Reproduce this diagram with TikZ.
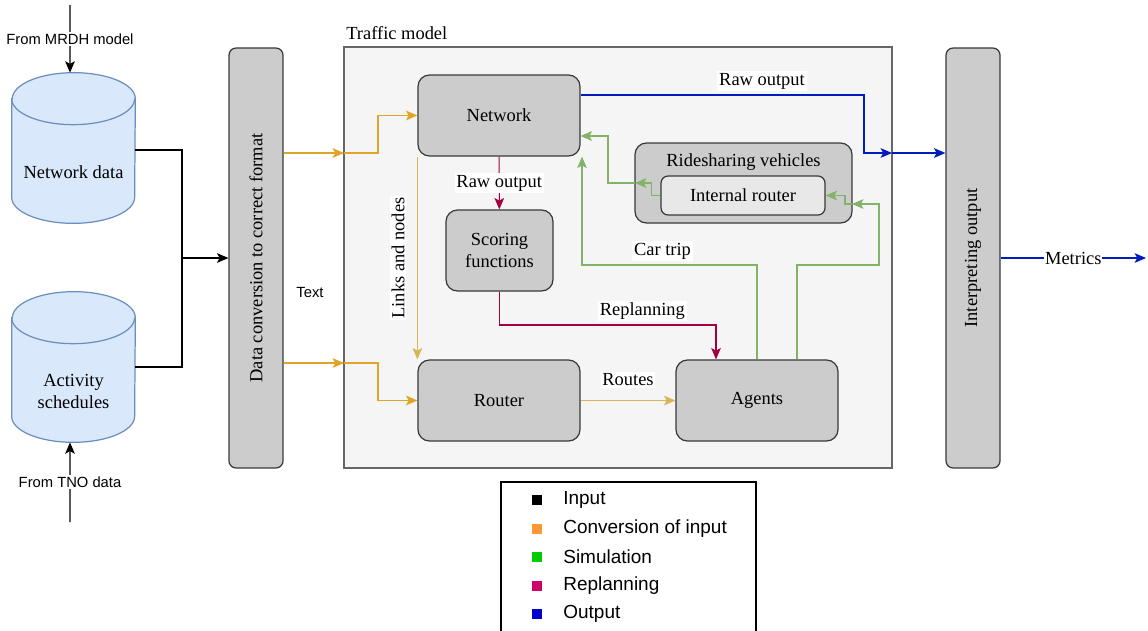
\documentclass[tikz,border=0pt]{standalone}
\usepackage{fontspec}
\setmainfont{Liberation Serif}
\setsansfont{Liberation Sans}
\usetikzlibrary{arrows.meta}

\definecolor{boxgray}{HTML}{CCCCCC}
\definecolor{boxline}{HTML}{36393D}
\definecolor{modelfill}{HTML}{F5F5F5}
\definecolor{modelline}{HTML}{666666}
\definecolor{dbfill}{HTML}{DAE8FC}
\definecolor{dbline}{HTML}{6C8EBF}
\definecolor{convcol}{HTML}{DFA526}
\definecolor{linkcol}{HTML}{D6B656}
\definecolor{simcol}{HTML}{82B366}
\definecolor{replcol}{HTML}{A50040}
\definecolor{outcol}{HTML}{001DBC}
\definecolor{legorange}{HTML}{FF9933}
\definecolor{leggreen}{HTML}{00CC00}
\definecolor{legpink}{HTML}{CC0066}
\definecolor{legblue}{HTML}{0000CC}

\newcommand{\boxfont}{\fontsize{10.5}{12.5}\selectfont}
\newcommand{\smallsans}{\sffamily\fontsize{8.4}{10}\selectfont}
\newcommand{\legfont}{\sffamily\fontsize{10.8}{13}\selectfont}

% cylinder drawn round a named (invisible) node
\newcommand{\dbshape}[1]{%
  \draw[dbline, fill=dbfill, line width=0.7pt]
    ([yshift=-0.52cm]#1.north west) -- ([yshift=0.52cm]#1.south west)
    arc[start angle=180, end angle=360, x radius=1.23cm, y radius=0.52cm]
    -- ([yshift=-0.52cm]#1.north east)
    arc[start angle=0, end angle=180, x radius=1.23cm, y radius=0.52cm] -- cycle;
  \draw[dbline, line width=0.7pt] ([yshift=-0.52cm]#1.north west)
    arc[start angle=180, end angle=360, x radius=1.23cm, y radius=0.52cm];
}

\tikzset{
  box/.style={draw=boxline, fill=boxgray, rounded corners=6.5pt, line width=0.7pt,
    font=\boxfont, align=center, minimum width=3.24cm, minimum height=1.62cm},
  bar/.style={box, minimum width=1.08cm, minimum height=8.4cm, rounded corners=4pt},
  db/.style={minimum width=2.46cm, minimum height=3cm, inner sep=0pt},
  model/.style={draw=modelline, fill=modelfill, line width=0.7pt,
    minimum width=10.96cm, minimum height=8.42cm},
  tip/.style={-{Stealth[length=6.5pt,width=5.5pt,inset=1.5pt]}},
  inp/.style={tip, line width=0.6pt, black},
  conv/.style={tip, line width=0.7pt, convcol},
  link/.style={tip, line width=0.6pt, linkcol},
  sim/.style={tip, line width=0.6pt, simcol},
  repl/.style={tip, line width=0.6pt, replcol},
  outp/.style={tip, line width=0.6pt, outcol},
  lbl/.style={fill=white, text=black, font=\boxfont, inner sep=1pt},
  slbl/.style={fill=white, text=black, font=\smallsans, inner sep=1pt},
}

\begin{document}
\begin{tikzpicture}[x=0.02cm, y=-0.02cm]
  \useasboundingbox (0,0) rectangle (1148,630);

  % traffic model container
  \node[model] (model) at (618,257.5) {};
  \node[anchor=west, font=\boxfont, inner sep=0pt] (modellbl) at (346,33) {Traffic model};

  % input side
  \node[db] (netdata) at (73.5,148) {};
  \dbshape{netdata}
  \node[font=\boxfont] (netdatatxt) at (73.5,172) {Network data};
  \node[db] (actdata) at (73.5,367) {};
  \dbshape{actdata}
  \node[font=\boxfont, align=center] (acttxt) at (73.5,391) {Activity\\schedules};
  \coordinate (mrdh) at (70,5);
  \coordinate (tno) at (70,522);
  \coordinate (join) at (182,258);

  \node[bar] (conv) at (256,258) {};
  \node[rotate=90, font=\boxfont] (convtxt) at (conv) {Data conversion to correct format};
  \node[font=\smallsans] (txtlbl) at (310,292) {Text};

  % blocks inside the model
  \node[box] (net) at (499,115.5) {Network};
  \node[box, minimum width=2.14cm] (score) at (499.5,250.5) {Scoring\\functions};
  \node[box] (router) at (499,400.5) {Router};
  \node[box] (agents) at (757,400.5) {Agents};
  \node[box, minimum width=4.34cm, minimum height=1.6cm, text depth=0.9cm] (ride) at (743.5,183)
    {Ridesharing vehicles};
  \node[box, fill=gray!18, minimum width=3.28cm, minimum height=0.78cm, rounded corners=4pt] (irouter)
    at (743,195.5) {Internal router};

  % output side
  \node[bar] (interp) at (973,258) {};
  \node[rotate=90, font=\boxfont] (interptxt) at (interp) {Interpreting output};
  \coordinate (metrics) at (1146,258);

  % input
  \draw[inp] (mrdh) -- node[slbl] {From MRDH model} ([xshift=-0.07cm]netdata.north);
  \draw[inp] (tno) -- node[slbl] {From TNO data} ([xshift=-0.07cm]actdata.south);
  \draw[line width=0.6pt] ([yshift=-0.04cm]netdata.east) -| (join);
  \draw[line width=0.6pt] (actdata.east) -| (join);
  \draw[inp] (join) -- (conv.west);

  % conversion of input
  \coordinate (inN) at (344,153);
  \coordinate (inR) at (344,363);
  \draw[conv] (conv.east |- inN) -- (inN);
  \draw[conv] (conv.east |- inR) -- (inR);
  \draw[conv] (inN) -- ++(34,0) |- (net.west);
  \draw[conv] (inR) -- ++(34,0) |- (router.west);
  \draw[link] (net.south west) -- node[lbl, anchor=south, rotate=90, pos=0.5, yshift=6pt] {Links and nodes}
    (router.north west);
  \draw[link] (router) -- node[lbl, above=7pt] {Routes} (agents);

  % replanning
  \coordinate (rp) at (716,325);
  \draw[repl] (net) -- node[lbl] {Raw output} (score);
  \draw[repl] (score.south) |- node[lbl, pos=0.83, above=2pt] {Replanning} (rp) -- (rp |- agents.north);

  % simulation
  \coordinate (ct) at (582,265);
  \coordinate (sw) at (879,265);
  \coordinate (inRS) at (852,204);
  \coordinate (outRS) at (635,183);
  \draw[sim] (agents.north) |- node[lbl, pos=0.77, above=2pt] {Car trip} (ct) -- (ct |- net.south);
  \draw[sim] ([xshift=0.8cm]agents.north) |- (sw) |- (inRS);
  \draw[sim] (inRS) -- ++(-7,0) |- (irouter.east);
  \draw[sim] (irouter.west) -- ++(-9,0) |- (outRS);
  \draw[sim] (outRS) -- ++(-27,0) |- ([yshift=-0.41cm]net.east);

  % output
  \coordinate (outM) at (892,153);
  \draw[outp] ([yshift=0.41cm]net.east) -| node[lbl, pos=0.32, above=2pt] {Raw output}
    ([xshift=-0.56cm]outM) -- (outM);
  \draw[outp, line width=0.9pt] (outM) -- (interp.west |- outM);
  \draw[outp] (interp) -- node[lbl, inner sep=0.5pt] {Metrics} (metrics);

  % legend
  \draw[line width=0.6pt] (501,645) -- (501,482) -- (756,482) -- (756,645);
  \foreach \col/\txt [count=\i] in {black/Input, legorange/Conversion of input,
      leggreen/Simulation, legpink/Replanning, legblue/Output} {
    \node[fill=\col, minimum size=0.2cm, inner sep=0pt] (sq\i) at (537,{471.5+28.5*\i}) {};
    \node[anchor=west, font=\legfont, inner sep=0pt] (leg\i) at (563,{471.5+28.5*\i}) {\txt};
  }
\end{tikzpicture}
\end{document}
